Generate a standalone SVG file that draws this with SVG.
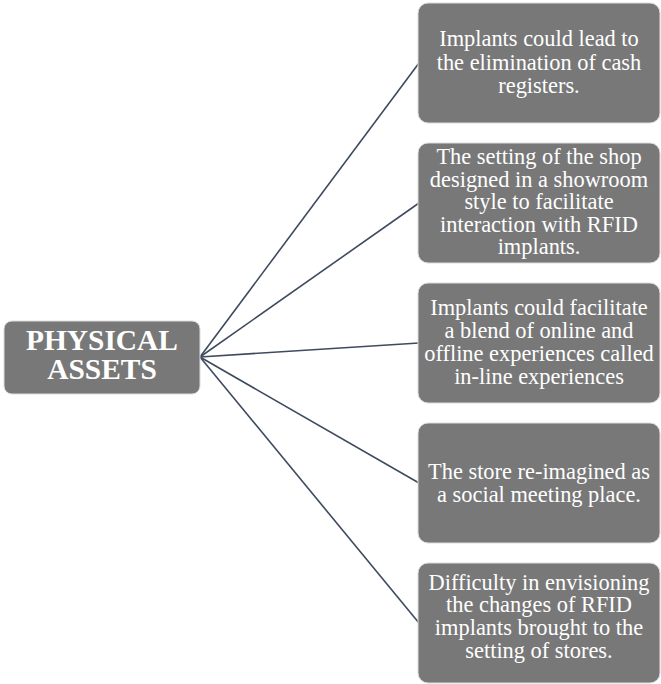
<svg xmlns="http://www.w3.org/2000/svg" width="661" height="684" viewBox="0 0 661 684">
  <style>
    .box { fill: #787878; stroke: #dcdcdc; stroke-width: 1; }
    .link { stroke: #3e4a5e; stroke-width: 1.6; fill: none; }
    .t { fill: #ffffff; font-family: "Liberation Serif", "Times New Roman", serif; font-size: 22.4px; text-anchor: middle; }
    .hub { fill: #ffffff; font-family: "Liberation Serif", "Times New Roman", serif; font-size: 29.4px; font-weight: bold; text-anchor: middle; }
  </style>
  <rect width="661" height="684" fill="#ffffff"/>

  <!-- connectors from the hub to each item -->
  <g id="connectors">
    <line class="link" x1="200" y1="357" x2="419" y2="63"/>
    <line class="link" x1="200" y1="357" x2="419" y2="203"/>
    <line class="link" x1="200" y1="357" x2="419" y2="343"/>
    <line class="link" x1="200" y1="357" x2="419" y2="483"/>
    <line class="link" x1="200" y1="357" x2="419" y2="623"/>
  </g>

  <g id="hub">
    <rect class="box" x="4" y="321" width="196" height="73" rx="8"/>
    <text class="hub" x="102" y="350">PHYSICAL</text>
    <text class="hub" x="102" y="379">ASSETS</text>
  </g>

  <g id="item1">
    <rect class="box" x="418" y="3" width="242" height="120" rx="10"/>
    <text class="t" x="539" y="46">Implants could lead to</text>
    <text class="t" x="539" y="70">the elimination of cash</text>
    <text class="t" x="539" y="93">registers.</text>
  </g>

  <g id="item2">
    <rect class="box" x="418" y="143" width="242" height="120" rx="10"/>
    <text class="t" x="539" y="164">The setting of the shop</text>
    <text class="t" x="539" y="186.5">designed in a showroom</text>
    <text class="t" x="539" y="209">style to facilitate</text>
    <text class="t" x="539" y="231.5">interaction with RFID</text>
    <text class="t" x="539" y="254">implants.</text>
  </g>

  <g id="item3">
    <rect class="box" x="418" y="283" width="242" height="120" rx="10"/>
    <text class="t" x="539" y="315">Implants could facilitate</text>
    <text class="t" x="539" y="338">a blend of online and</text>
    <text class="t" x="539" y="361">offline experiences called</text>
    <text class="t" x="539" y="384">in-line experiences</text>
  </g>

  <g id="item4">
    <rect class="box" x="418" y="423" width="242" height="120" rx="10"/>
    <text class="t" x="539" y="479">The store re-imagined as</text>
    <text class="t" x="539" y="502">a social meeting place.</text>
  </g>

  <g id="item5">
    <rect class="box" x="418" y="563" width="242" height="120" rx="10"/>
    <text class="t" x="539" y="590">Difficulty in envisioning</text>
    <text class="t" x="539" y="612">the changes of RFID</text>
    <text class="t" x="539" y="635">implants brought to the</text>
    <text class="t" x="539" y="658">setting of stores.</text>
  </g>
</svg>
